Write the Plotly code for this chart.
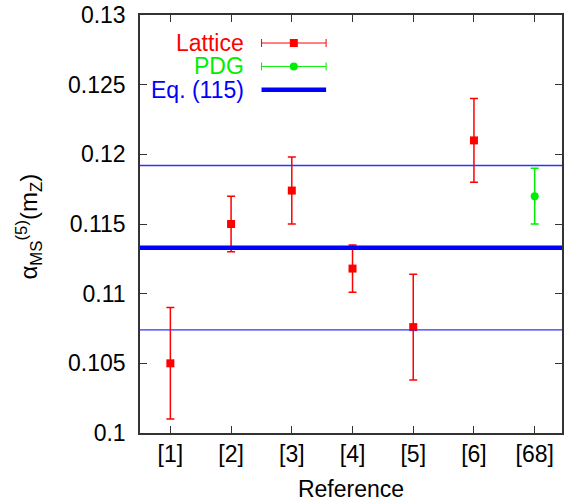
import plotly.graph_objects as go

# Determinations of alpha_s(m_Z) by reference
refs = ["[1]", "[2]", "[3]", "[4]", "[5]", "[6]", "[68]"]
lattice_pos = [1, 2, 3, 4, 5, 6]
lattice_val = [0.1050, 0.1150, 0.1174, 0.1118, 0.1076, 0.1210]
lattice_err = [0.0040, 0.0020, 0.0024, 0.0017, 0.0038, 0.0030]
pdg_pos = [7]
pdg_val = [0.1170]
pdg_err = [0.0020]
eq115_val = 0.1133
eq115_err = 0.0059

RED = "#ff0000"
GREEN = "#00ee00"
BLUE = "#0000ff"
FONT = "Liberation Sans, Arial, sans-serif"
FS = 23

fig = go.Figure()

# Eq. (115) band: central value and its limits
fig.add_hline(y=eq115_val, line=dict(color=BLUE, width=4.5))
fig.add_hline(y=eq115_val + eq115_err, line=dict(color="#3030ff", width=1.4))
fig.add_hline(y=eq115_val - eq115_err, line=dict(color="#3030ff", width=1.4))

fig.add_trace(go.Scatter(
    x=lattice_pos, y=lattice_val, mode="markers",
    marker=dict(symbol="square", size=8, color=RED),
    error_y=dict(type="data", array=lattice_err, color=RED, thickness=1.5, width=4),
    showlegend=False))
fig.add_trace(go.Scatter(
    x=pdg_pos, y=pdg_val, mode="markers",
    marker=dict(symbol="circle", size=8, color=GREEN),
    error_y=dict(type="data", array=pdg_err, color=GREEN, thickness=1.5, width=4),
    showlegend=False))

# Key drawn on an overlay axis spanning the plot area in [0, 1]
key_y = [0.933, 0.877, 0.821]
key_x0, key_x1, key_xc = 0.288, 0.441, 0.3645
key_half = (key_x1 - key_x0) / 2
fig.add_trace(go.Scatter(
    x=[key_xc], y=[key_y[0]], xaxis="x2", yaxis="y2", mode="markers",
    marker=dict(symbol="square", size=8, color=RED),
    error_x=dict(type="constant", value=key_half, color=RED, thickness=1, width=4),
    showlegend=False, hoverinfo="skip"))
fig.add_trace(go.Scatter(
    x=[key_xc], y=[key_y[1]], xaxis="x2", yaxis="y2", mode="markers",
    marker=dict(symbol="circle", size=8, color=GREEN),
    error_x=dict(type="constant", value=key_half, color=GREEN, thickness=1, width=4),
    showlegend=False, hoverinfo="skip"))
fig.add_trace(go.Scatter(
    x=[key_x0, key_x1], y=[key_y[2], key_y[2]], xaxis="x2", yaxis="y2", mode="lines",
    line=dict(color=BLUE, width=4.5),
    showlegend=False, hoverinfo="skip"))

for label, yk, col in zip(["Lattice", "PDG", "Eq. (115)"], key_y, [RED, GREEN, BLUE]):
    fig.add_annotation(x=0.25, y=yk, xref="paper", yref="paper", text=label,
                       showarrow=False, xanchor="right", yanchor="middle",
                       font=dict(family=FONT, size=FS, color=col))

fig.add_annotation(x=-0.262, y=0.495, xref="paper", yref="paper",
                   text="α<sub>MS</sub><sup>(5)</sup>(m<sub>Z</sub>)",
                   textangle=-90, showarrow=False, xanchor="center", yanchor="middle",
                   font=dict(family=FONT, size=FS + 1, color="black"))

axis_common = dict(showgrid=False, zeroline=False, showline=True, linecolor="#333333",
                   linewidth=1.5, ticks="inside", ticklen=7, tickcolor="#333333",
                   tickfont=dict(family=FONT, size=FS, color="black"))

fig.update_layout(
    width=564, height=502,
    margin=dict(l=140, r=0, t=15, b=69),
    paper_bgcolor="white", plot_bgcolor="white",
    xaxis=dict(range=[0.5, 7.45], tickmode="array", tickvals=list(range(1, 8)),
               ticktext=refs, mirror="allticks",
               title=dict(text="Reference", font=dict(family=FONT, size=FS, color="black"),
                          standoff=16),
               **axis_common),
    yaxis=dict(range=[0.1, 0.13], tickmode="array",
               tickvals=[0.1, 0.105, 0.11, 0.115, 0.12, 0.125, 0.13],
               ticktext=["0.1", "0.105", "0.11", "0.115", "0.12", "0.125", "0.13"],
               mirror="ticks", ticklabelstandoff=8,
               **axis_common),
    xaxis2=dict(range=[0, 1], overlaying="x", visible=False, fixedrange=True),
    yaxis2=dict(range=[0, 1], overlaying="y", visible=False, fixedrange=True),
)

fig.write_html("out.html")
